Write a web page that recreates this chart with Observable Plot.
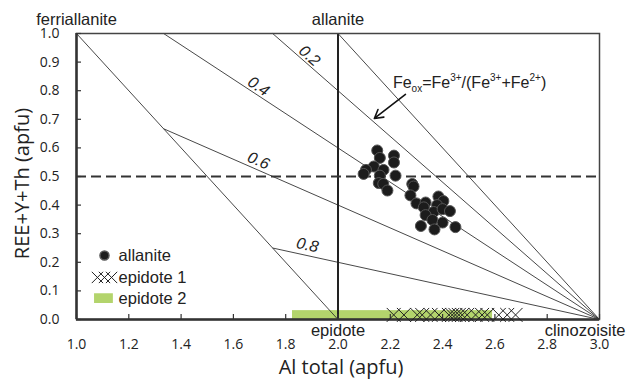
<!DOCTYPE html>
<html><head><meta charset="utf-8">
<script src="https://cdn.jsdelivr.net/npm/d3@7"></script>
<script src="https://cdn.jsdelivr.net/npm/@observablehq/plot@0.6"></script>
<style>
body{margin:0;background:#fff;}
</style></head><body><div id="chart"></div>
<script>
// ---- data ----
const xTicks = [1.0, 1.2, 1.4, 1.6, 1.8, 2.0, 2.2, 2.4, 2.6, 2.8, 3.0];
const yTicks = [0.0, 0.1, 0.2, 0.3, 0.4, 0.5, 0.6, 0.7, 0.8, 0.9, 1.0];

const allaniteAl  = [2.150, 2.160, 2.214, 2.214, 2.137, 2.107, 2.098, 2.174, 2.160, 2.220, 2.156, 2.173, 2.189, 2.284, 2.289, 2.277, 2.300, 2.335, 2.328, 2.384, 2.403, 2.379, 2.366, 2.400, 2.428, 2.335, 2.361, 2.400, 2.317, 2.369, 2.449];
const allaniteRee = [0.591, 0.565, 0.573, 0.549, 0.535, 0.523, 0.509, 0.523, 0.503, 0.503, 0.477, 0.474, 0.451, 0.474, 0.465, 0.434, 0.406, 0.409, 0.392, 0.430, 0.414, 0.400, 0.376, 0.386, 0.379, 0.365, 0.348, 0.339, 0.327, 0.315, 0.323];

const epidote1Al = [2.213, 2.252, 2.303, 2.322, 2.354, 2.386, 2.424, 2.437, 2.449, 2.462, 2.475, 2.494, 2.526, 2.551, 2.571, 2.615, 2.647, 2.679];
const epidote1Ree = 0.016;
const epidote2Range = [1.826, 2.591];
const epidote2Ree = 0.031;

// Fe_ox isolines: start point, all end at clinozoisite (3, 0)
const feoxValues   = [0, 0.2, 0.4, 0.6, 0.8];
const feoxStartAl  = [2.0, 1.75, 1.333, 1.333, 1.75];
const feoxStartRee = [1.0, 1.0, 1.0, 0.667, 0.25];
const feoxLabels   = ["0.2", "0.4", "0.6", "0.8"];
const feoxLabelAl  = [1.891, 1.696, 1.696, 1.883];
const feoxLabelRee = [0.922, 0.815, 0.555, 0.260];

const endNames = ["ferriallanite", "allanite", "epidote", "clinozoisite"];
const endAl    = [1.0, 2.0, 2.0, 3.0];
const endRee   = [1.0, 1.0, 0.0, 0.0];

const legendNames = ["allanite", "epidote 1", "epidote 2"];
const legendTextAl = 1.161;
const legendRee = [0.224, 0.147, 0.073];
const legendSymAl = [1.080, 1.107, 1.134];

const annotationAl = 2.212, annotationRee = 0.829;
const arrowFrom = [2.258, 0.787], arrowTo = [2.139, 0.703];

// ---- build ----
const W = 629, H = 380, mL = 76, mR = 30, mT = 33, mB = 61;
const innerW = W - mL - mR, innerH = H - mT - mB;
const kx = innerW / 2, ky = innerH;
const sans = "Liberation Sans, Arial, sans-serif";
const open = "Open Sans, sans-serif";

const allanite = allaniteAl.map((a, i) => ({al: a, ree: allaniteRee[i]}));
const epidote1 = epidote1Al.map(a => ({al: a, ree: epidote1Ree}));
const feoxLines = feoxValues.map((f, i) => ({f, x1: feoxStartAl[i], y1: feoxStartRee[i], x2: 3, y2: 0}));
const labels = feoxLabels.map((t, i) => ({t, al: feoxLabelAl[i], ree: feoxLabelRee[i],
  angle: Math.atan((1 - +t) * ky / kx) * 180 / Math.PI}));
const ends = endNames.map((n, i) => ({n, al: endAl[i], ree: endRee[i]}));
const legend = legendNames.map((n, i) => ({n, ree: legendRee[i]}));

const plot = Plot.plot({
  width: W, height: H,
  marginLeft: mL, marginRight: mR, marginTop: mT, marginBottom: mB,
  x: {domain: [1, 3]},
  y: {domain: [0, 1]},
  style: {fontFamily: sans, background: "#fff", overflow: "visible"},
  marks: [
    Plot.rect([epidote2Range], {x1: d => d[0], x2: d => d[1], y1: 0, y2: epidote2Ree, fill: "#b3d46c"}),
    Plot.link(feoxLines, {x1: "x1", y1: "y1", x2: "x2", y2: "y2", stroke: "#333", strokeWidth: 0.9}),
    Plot.link([[endAl[0], endRee[0], endAl[2], endRee[2]]], {x1: d => d[0], y1: d => d[1], x2: d => d[2], y2: d => d[3], stroke: "#333", strokeWidth: 0.9}),
    Plot.ruleX([2], {y1: 0, y2: 1, stroke: "#222", strokeWidth: 2}),
    Plot.ruleY([0.5], {x1: 1, x2: 3, stroke: "#333", strokeWidth: 2, strokeDasharray: "10,5"}),
    Plot.frame({stroke: "#444", strokeWidth: 1.5}),
    // inward ticks
    Plot.ruleX(xTicks, {insetTop: innerH - 5, stroke: "#333", strokeWidth: 1.2}),
    Plot.ruleY(yTicks, {insetRight: innerW - 5, stroke: "#333", strokeWidth: 1.2}),
    Plot.ruleX([1], {stroke: "#333", strokeWidth: 2.5}),
    Plot.ruleY([0], {stroke: "#333", strokeWidth: 2.5}),
    Plot.axisX({ticks: xTicks, tickSize: 0, tickPadding: 20, tickFormat: d3.format(".1f"), fontSize: 14, fontFamily: open, label: null, fill: "#222"}),
    Plot.axisY({ticks: yTicks, tickSize: 0, tickPadding: 17, tickFormat: d3.format(".1f"), fontSize: 14, fontFamily: open, label: null, fill: "#222"}),
    Plot.dot(epidote1, {x: "al", y: "ree", symbol: "times", r: 6.4, stroke: "#222", strokeWidth: 1}),
    Plot.dot(allanite, {x: "al", y: "ree", r: 5.5, fill: "#1c1c1c", stroke: "#555", strokeWidth: 1}),
    Plot.text(labels, {x: "al", y: "ree", text: "t", rotate: "angle", fontSize: 16, fontStyle: "italic", fill: "#222"}),
    Plot.text(ends.slice(0, 2), {x: "al", y: "ree", text: "n", fontSize: 16.5, dy: -14, fill: "#222"}),
    Plot.text(ends.slice(2, 3), {x: "al", y: "ree", text: "n", fontSize: 16.5, dy: 11, fill: "#222"}),
    Plot.text(ends.slice(3), {x: "al", y: "ree", text: "n", fontSize: 16.5, dy: 11, dx: 26, textAnchor: "end", fill: "#222"}),
    // legend
    Plot.dot(legend.slice(0, 1), {x: legendSymAl[1], y: "ree", r: 4.5, fill: "#1c1c1c", stroke: "#555"}),
    Plot.dot(legendSymAl.map(a => ({al: a, ree: legendRee[1]})), {x: "al", y: "ree", symbol: "times", r: 5.2, stroke: "#222", strokeWidth: 1}),
    Plot.rect(legend.slice(2), {x1: legendSymAl[0] - 0.011, x2: legendSymAl[2] + 0.007, y1: d => d.ree - 0.017, y2: d => d.ree + 0.017, fill: "#b3d46c"}),
    Plot.text(legend, {x: legendTextAl, y: "ree", text: "n", textAnchor: "start", fontSize: 16.5, fill: "#222"}),
    // arrow
    Plot.arrow([[...arrowFrom, ...arrowTo]], {x1: d => d[0], y1: d => d[1], x2: d => d[2], y2: d => d[3], stroke: "#111", strokeWidth: 1.6, headLength: 9}),
    // axis titles
    Plot.text(["Al total (apfu)"], {frameAnchor: "bottom", textAnchor: "middle", lineAnchor: "middle", dy: 48, dx: 3, fontSize: 20, fontFamily: open, fill: "#222"}),
    Plot.text(["REE+Y+Th (apfu)"], {frameAnchor: "left", textAnchor: "middle", lineAnchor: "middle", dx: -54, dy: 7, rotate: -90, fontSize: 20, fontFamily: open, fill: "#222"})
  ]
});

// Fe_ox annotation with sub/superscripts
const sx = plot.scale("x"), sy = plot.scale("y");
const t = d3.select(plot).append("text")
  .attr("x", sx.apply(annotationAl)).attr("y", sy.apply(annotationRee) + 6)
  .attr("text-anchor", "start")
  .attr("font-family", sans).attr("font-size", 16).attr("fill", "#222");
const parts = [["Fe", 0], ["ox", 1], ["=Fe", 0], ["3+", -1], ["/(Fe", 0], ["3+", -1], ["+Fe", 0], ["2+", -1], [")", 0]];
let shift = 0;
for (const [s, k] of parts) {
  const target = k === 1 ? 4 : k === -1 ? -7 : 0;
  t.append("tspan").attr("dy", target - shift).attr("font-size", k ? 10 : 16).text(s);
  shift = target;
}

document.getElementById("chart").append(plot);
</script>
</body></html>
